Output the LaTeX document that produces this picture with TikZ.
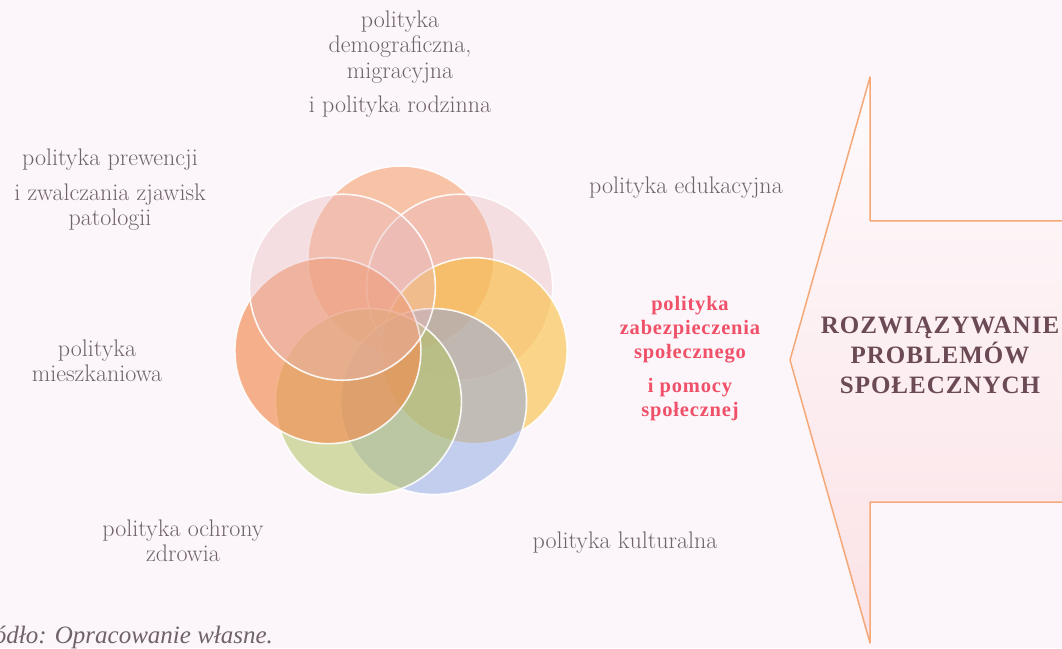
\documentclass[tikz,border=0pt]{standalone}
\usepackage{fontspec}
\newfontfamily\timesb[LetterSpace=4]{Liberation Serif}
\newfontfamily\timesn{Liberation Serif}
\definecolor{bgpink}{RGB}{252,246,250}
\definecolor{txtgray}{RGB}{112,98,106}
\definecolor{redtxt}{RGB}{240,80,104}
\definecolor{arrline}{RGB}{245,168,120}
\definecolor{arrtxt}{RGB}{107,74,85}
\definecolor{arrmid}{RGB}{249,212,206}
\definecolor{arrbot}{RGB}{251,226,230}
\definecolor{kdemo}{RGB}{244,160,110}
\definecolor{keduk}{RGB}{232,186,190}
\definecolor{kzabez}{RGB}{250,190,60}
\definecolor{kkult}{RGB}{140,165,228}
\definecolor{kzdrow}{RGB}{180,195,100}
\definecolor{kmiesz}{RGB}{242,140,80}
\definecolor{kprew}{RGB}{232,186,190}
\begin{document}
\begin{tikzpicture}[x=1pt, y=1pt, line join=round, line cap=round,
	declare function={ringr=75; petr=93;},
	lbl/.style={text=txtgray, align=center, inner sep=0pt, font=\fontsize{24}{25.5}\selectfont},
	petal/.style 2 args={fill=#1, fill opacity=#2, draw=white, draw opacity=.9, line width=1.6pt}]
	\fill[bgpink] (0,0) rectangle (1062,648);
	\clip (0,0) rectangle (1062,648);
	% strzalka
	\draw[arrline, line width=1.5pt, top color=bgpink!50!white, middle color=arrmid, bottom color=arrbot]
	(790,288) coordinate (tip) -- (870,571) -- (870,427) -- (1080,427)
	-- (1080,146) -- (870,146) -- (870,5) -- cycle;
	\node[text=arrtxt, align=center, inner sep=0pt, font=\timesb\bfseries\fontsize{25}{30}\selectfont] (rozw) at (940,293)
	{ROZWIĄZYWANIE\\PROBLEMÓW\\SPOŁECZNYCH};
	% kola
	\coordinate (ctr) at (401,314);
	\foreach \k/\o [count=\i from 0] in {kdemo/.6, keduk/.4, kzabez/.6, kkult/.5, kzdrow/.55, kmiesz/.65, kprew/.4}
	\path[petal={\k}{\o}] (ctr) ++({90-360/7*\i}:ringr) coordinate (c\i) circle[radius=petr];
	% opisy
	\node[lbl] (demo) at (400,584) {polityka\\demograficzna,\\migracyjna\\[9pt]i polityka rodzinna};
	\node[lbl] (prew) at (110,458) {polityka prewencji\\[9pt]i zwalczania zjawisk\\patologii};
	\node[lbl] (eduk) at (686,460) {polityka edukacyjna};
	\node[text=redtxt, align=center, inner sep=0pt, font=\timesb\bfseries\fontsize{20.5}{24}\selectfont] (zabez) at (690,289)
	{polityka\\zabezpieczenia\\społecznego\\[10pt]i pomocy\\społecznej};
	\node[lbl] (miesz) at (97,287) {polityka\\mieszkaniowa};
	\node[lbl] (zdrow) at (183,107) {polityka ochrony\\zdrowia};
	\node[lbl] (kult) at (625,105) {polityka kulturalna};
	\node[text=txtgray, anchor=base west, inner sep=0pt, font=\timesn\itshape\fontsize{25}{28}\selectfont] (zrodlo) at (-30,5)
	{Źródło: Opracowanie własne.};
\end{tikzpicture}
\end{document}
